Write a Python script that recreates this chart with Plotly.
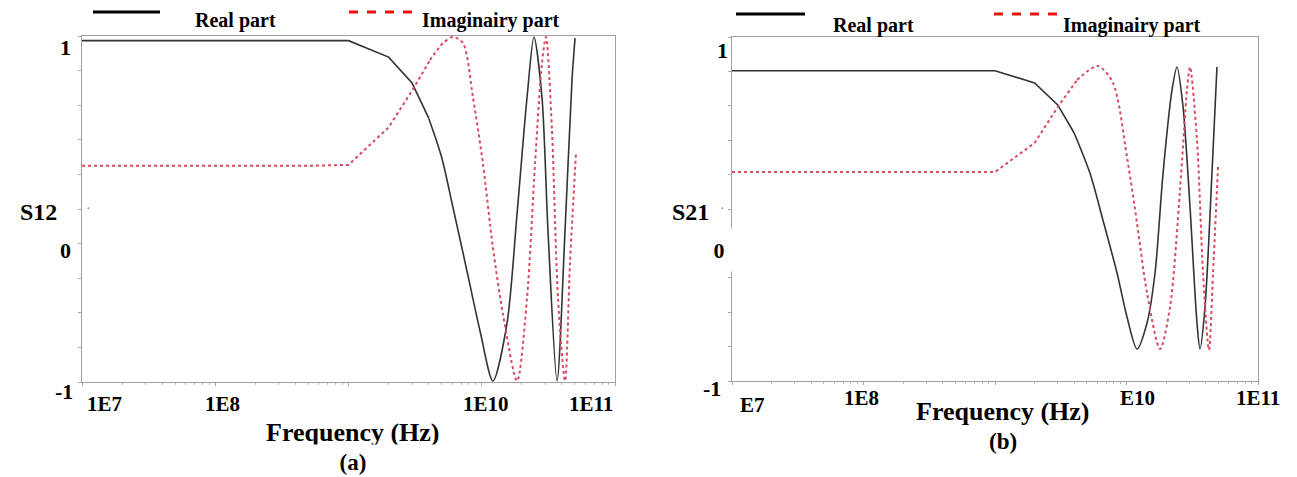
import plotly.graph_objects as go

W, H = 1297, 477

# ---------------- data (frequency in GHz) ----------------
freq_a_real = [0.01, 0.1, 0.5, 1.0, 2.0, 3.0, 4.0, 5.0, 6.08, 7.74, 9.70, 12.13, 15.45, 18.41,
               21.88, 24.66, 28.31, 31.41, 36.73, 42.17, 47.53, 50.12]
s12_real = [0.973, 0.973, 0.973, 0.973, 0.878, 0.728, 0.525, 0.299, 0.009, -0.357, -0.704, -0.994,
            -0.664, -0.026, 0.646, 0.994, 0.646, -0.125, -0.994, -0.125, 0.742, 0.988]

freq_a_imag = [0.01, 0.1, 0.5, 1.0, 2.0, 3.0, 4.09, 5.12, 6.08, 7.23, 8.59, 10.2, 12.13, 14.42,
               18.41, 21.88, 25.12, 28.31, 30.34, 33.65, 37.33, 42.17, 45.92, 50.93]
s12_imag = [0.25, 0.25, 0.25, 0.255, 0.472, 0.684, 0.861, 0.959, 0.994, 0.959, 0.646, 0.264, -0.223,
            -0.606, -0.994, -0.513, 0.264, 0.843, 0.994, 0.455, -0.513, -0.994, -0.316, 0.322]

freq_b_real = [0.01, 0.1, 0.5, 1.0, 2.0, 3.0, 4.0, 5.27, 6.62, 8.47, 10.09, 12.02, 14.32, 16.48,
               18.97, 22.18, 24.21, 26.92, 30.41, 34.36, 36.22, 39.54, 44.67, 48.75]
s21_real = [0.804, 0.804, 0.804, 0.804, 0.733, 0.605, 0.442, 0.209, -0.064, -0.372, -0.628, -0.814,
            -0.663, -0.372, 0.209, 0.692, 0.826, 0.593, 0.012, -0.663, -0.814, -0.570, 0.209, 0.826]

freq_b_imag = [0.01, 0.1, 0.5, 1.0, 2.0, 3.0, 4.21, 6.07, 7.89, 10.09, 12.02, 14.32, 17.99, 21.43,
               25.53, 28.84, 30.41, 34.36, 38.19, 42.36, 45.50, 49.66]
s21_imag = [0.215, 0.215, 0.215, 0.215, 0.384, 0.593, 0.750, 0.831, 0.733, 0.302, -0.081, -0.488,
            -0.814, -0.570, 0.110, 0.692, 0.826, 0.401, -0.372, -0.820, -0.372, 0.244]

x_tick_labels_a = ["1E7", "1E8", "1E10", "1E11"]
x_tick_labels_b = ["E7", "1E8", "E10", "1E11"]
y_labels = ["1", "0", "-1"]
legend_labels = ["Real part", "Imaginairy part"]
y_titles = ["S12", "S21"]
x_title = "Frequency (Hz)"
captions = ["(a)", "(b)"]
decades = [1e7, 1e8, 1e9, 1e10, 1e11]

# the coarse low-frequency sampling is drawn with straight segments,
# the dense high-frequency part smoothly
COARSE_UNTIL_GHZ = 4.3

# ---------------- styles ----------------
REAL = dict(color="#333333", width=1.6)
IMAG = dict(color="#d94a5e", width=2, dash="dot")
SERIF = "Liberation Serif, Times New Roman, serif"

fig = go.Figure()


def add_series(freq, vals, style, xa, ya):
    hz = [f * 1e9 for f in freq]
    n = max(i for i, f in enumerate(freq) if f <= COARSE_UNTIL_GHZ)
    fig.add_trace(go.Scatter(x=hz[:n + 1], y=vals[:n + 1], mode="lines",
                             line=dict(style, shape="linear"), xaxis=xa, yaxis=ya))
    fig.add_trace(go.Scatter(x=hz[n:], y=vals[n:], mode="lines",
                             line=dict(style, shape="spline", smoothing=0.8), xaxis=xa, yaxis=ya))


add_series(freq_a_real, s12_real, REAL, "x", "y")
add_series(freq_a_imag, s12_imag, IMAG, "x", "y")
add_series(freq_b_real, s21_real, REAL, "x2", "y2")
add_series(freq_b_imag, s21_imag, IMAG, "x2", "y2")


def xax(domain, anchor):
    return dict(type="log", range=[7, 11], domain=domain, anchor=anchor,
                showline=True, mirror=True, linecolor="#a0a0a0", linewidth=1,
                showgrid=False, zeroline=False, showticklabels=False,
                ticks="outside", ticklen=3, tickcolor="#a8a8a8",
                tickmode="array", tickvals=decades,
                minor=dict(ticks="outside", ticklen=2, tickcolor="#b8b8b8", dtick="D1", showgrid=False))


def yax(domain, anchor):
    return dict(range=[-1, 1], domain=domain, anchor=anchor,
                showline=True, mirror=True, linecolor="#a0a0a0", linewidth=1,
                showgrid=False, zeroline=False, showticklabels=False,
                ticks="outside", ticklen=3, tickcolor="#a8a8a8", dtick=0.2)


fig.update_layout(
    width=W, height=H, margin=dict(l=0, r=0, t=0, b=0),
    paper_bgcolor="white", plot_bgcolor="white", showlegend=False,
    xaxis=xax([82 / W, 615 / W], "y"),
    yaxis=yax([1 - 382 / H, 1 - 36 / H], "x"),
    xaxis2=xax([732 / W, 1258 / W], "y2"),
    yaxis2=yax([1 - 381 / H, 1 - 37 / H], "x2"),
)


def P(x, y):
    return x / W, 1 - y / H


annotations = []


def txt(text, x, y, size, **kw):
    px, py = P(x, y)
    d = dict(text=text, x=px, y=py, xref="paper", yref="paper", showarrow=False,
             xanchor="center", yanchor="middle",
             font=dict(family=SERIF, size=size, color="black", weight="bold"))
    d.update(kw)
    annotations.append(d)


# panel (a)
for lab, (x, y) in zip(x_tick_labels_a, [(104, 404), (222, 404), (486, 404), (591, 404)]):
    txt(lab, x, y, 21)
for lab, (x, y) in zip(y_labels, [(65, 48), (65, 250), (64, 391)]):
    txt(lab, x, y, 22)
txt(y_titles[0], 38, 212, 24)
txt(x_title, 353, 432, 26)
# caption box also hides the lower edge of the axis title, as in the scan
txt(captions[0], 353, 460, 23, bgcolor="white", width=260, height=30, valign="bottom", borderpad=0)

# panel (b)
for lab, (x, y) in zip(x_tick_labels_b, [(752, 405), (861, 398), (1137, 398), (1258, 398)]):
    txt(lab, x, y, 21)
txt(y_labels[0], 722, 50, 22)
txt(y_labels[1], 719, 250, 22, bgcolor="white", width=38, height=40)
txt(y_labels[2], 712, 388, 22)
txt(y_titles[1], 690, 212, 24)
txt(x_title, 1003, 411, 26)
txt(captions[1], 1003, 441, 23)

# tiny zero-markers of the original axes
for (x, y) in [(88, 208), (723, 208)]:
    txt("•", x, y, 7, font=dict(size=7, color="#8a8a8a"))

# legends
shapes = []
for (x0, x1, y), tx, (lx, ly) in [((93, 160, 12), legend_labels[0], (235, 21)),
                                   ((736, 805, 14), legend_labels[0], (873, 25))]:
    a0, b0 = P(x0, y)
    a1, _ = P(x1, y)
    shapes.append(dict(type="line", xref="paper", yref="paper", x0=a0, x1=a1, y0=b0, y1=b0,
                       line=dict(color="black", width=3)))
    txt(tx, lx, ly, 20)
for (x0, x1, y), tx, (lx, ly) in [((349, 417, 12), legend_labels[1], (491, 21)),
                                   ((994, 1062, 14), legend_labels[1], (1132, 25))]:
    a0, b0 = P(x0, y)
    a1, _ = P(x1, y)
    shapes.append(dict(type="line", xref="paper", yref="paper", x0=a0, x1=a1, y0=b0, y1=b0,
                       line=dict(color="#ee1111", width=3, dash="dash")))
    txt(tx, lx, ly, 20)

fig.update_layout(annotations=annotations, shapes=shapes)
fig.write_html("out.html")
